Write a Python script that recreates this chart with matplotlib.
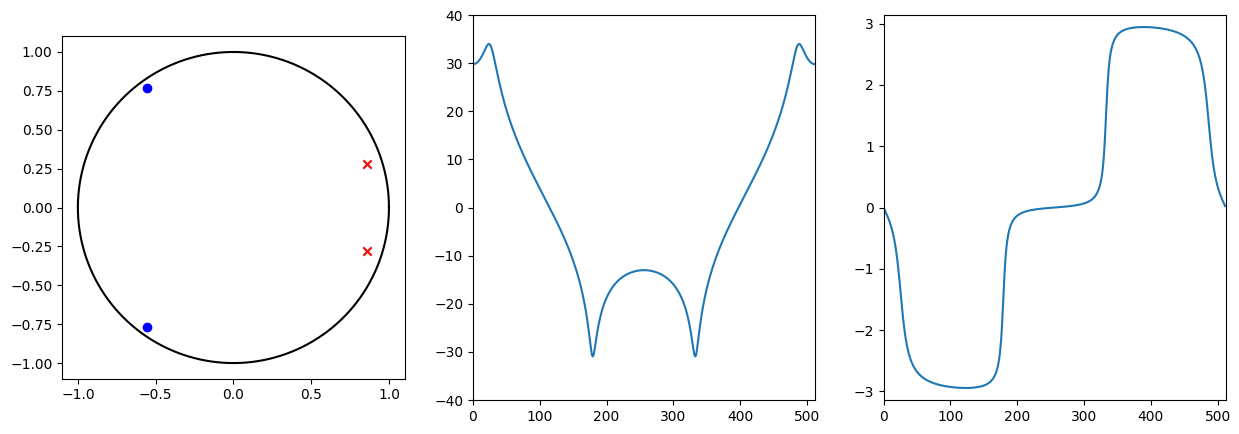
import numpy as np
import matplotlib
matplotlib.use('Agg')
import matplotlib.pyplot as plt

# zeros and poles (gain 1)
zeros = np.array([-0.558 + 0.769j, -0.558 - 0.769j])
poles = np.array([0.856 + 0.278j, 0.856 - 0.278j])
gain = 1.0
n_points = 512

# frequency response on the whole unit circle
w = 2 * np.pi * np.arange(n_points) / n_points
ejw = np.exp(1j * w)
H = gain * np.polyval(np.poly(zeros), ejw) / np.polyval(np.poly(poles), ejw)
mag_db = 20 * np.log10(np.abs(H))
phase = np.angle(H)

theta = np.linspace(0, 2 * np.pi, 500)

fig, axs = plt.subplots(1, 3, figsize=(12.39, 4.34), dpi=100)
fig.subplots_adjust(left=0.0503, right=0.9893, bottom=0.0783, top=0.9654, wspace=0.2)

# z-plane
ax = axs[0]
ax.plot(np.cos(theta), np.sin(theta), 'k')
ax.scatter(zeros.real, zeros.imag, c='b', marker='o')
ax.scatter(poles.real, poles.imag, c='r', marker='x')
ax.set_aspect('equal')

# magnitude (dB)
ax = axs[1]
ax.plot(np.arange(n_points), mag_db)
ax.set_xlim(0, n_points)
ax.set_ylim(-40, 40)

# phase
ax = axs[2]
ax.plot(np.arange(n_points), phase)
ax.set_xlim(0, n_points)
ax.set_ylim(-np.pi, np.pi)

plt.savefig('out.png', dpi=100)
plt.close()
